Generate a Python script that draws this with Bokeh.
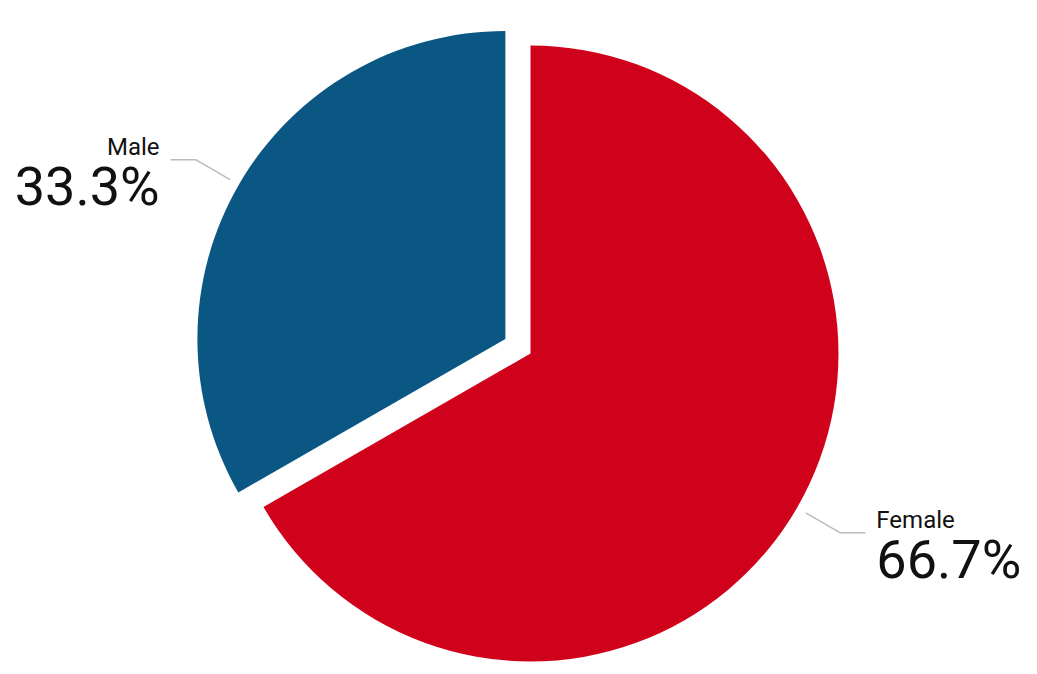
import math
from bokeh.plotting import figure
from bokeh.models import Range1d
from bokeh.core.properties import value
from bokeh.embed import file_html
from bokeh.resources import INLINE

# ---- data ----
categories = ["Female", "Male"]
shares = [66.7, 33.3]
pct_labels = ["66.7%", "33.3%"]
colors = ["#D0021B", "#0B5784"]
explode_px = [0, 29]

W, H = 1021, 666
CX, CY = 530, 313   # pie centre in data (pixel) units
R = 308

p = figure(width=W, height=H, output_backend="svg", toolbar_location=None,
           x_range=Range1d(0, W), y_range=Range1d(0, H),
           x_axis_type=None, y_axis_type=None, min_border=0)
p.grid.visible = False
p.outline_line_color = None
p.background_fill_color = "white"
p.border_fill_color = "white"

total = sum(shares)
angle = 90.0  # start at 12 o'clock, go clockwise
for cat, sh, col, ex, lab in zip(categories, shares, colors, explode_px, pct_labels):
    sweep = 360.0 * sh / total
    end = angle
    start = angle - sweep
    mid = math.radians((start + end) / 2)
    cx = CX + ex * math.cos(mid)
    cy = CY + ex * math.sin(mid)
    p.wedge(x=[cx], y=[cy], radius=R, start_angle=math.radians(start),
            end_angle=math.radians(end), fill_color=col, line_color=None)
    # leader line
    x0 = cx + (R + 10) * math.cos(mid)
    y0 = cy + (R + 10) * math.sin(mid)
    x1 = cx + (R + 50) * math.cos(mid)
    y1 = cy + (R + 50) * math.sin(mid)
    side = 1 if math.cos(mid) >= 0 else -1
    x2 = x1 + side * 25
    p.line([x0, x1, x2], [y0, y1, y1], line_color="#BBBBBB", line_width=1.5)
    tx = x2 + side * 11
    align = "left" if side > 0 else "right"
    p.text(x=[tx], y=[y1 + 13], text=[cat], text_font=value("Roboto"),
           text_font_size="24px", text_color="#111111", text_align=align,
           text_baseline="alphabetic")
    p.text(x=[tx], y=[y1 - 27], text=[lab], text_font=value("Roboto"),
           text_font_size="54px", text_color="#111111", text_align=align,
           text_baseline="alphabetic")
    angle = start

open("out.html", "w").write(file_html(p, INLINE))
